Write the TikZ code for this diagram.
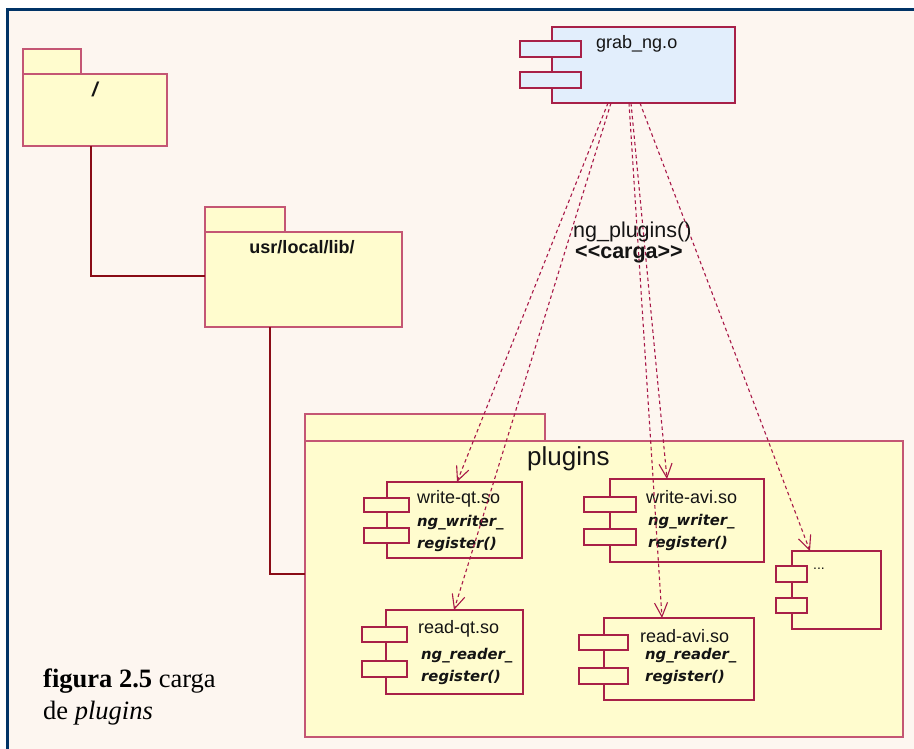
\documentclass[tikz,border=0pt]{standalone}
\usepackage{fontspec}
\setmainfont{Liberation Serif}
\setsansfont{Liberation Sans}
\newfontfamily\opfont{DejaVu Sans}
\usetikzlibrary{arrows.meta}

\definecolor{bgcol}{RGB}{253,246,240}
\definecolor{framecol}{RGB}{0,51,102}
\definecolor{pkgfill}{RGB}{255,252,206}
\definecolor{pkgline}{RGB}{196,86,116}
\definecolor{compline}{RGB}{168,32,72}
\definecolor{compblue}{RGB}{226,238,252}
\definecolor{linkcol}{RGB}{138,12,22}
\definecolor{depcol}{RGB}{168,24,72}
\definecolor{txtcol}{RGB}{20,20,20}

\begin{document}
\begin{tikzpicture}[x=1pt,y=-1pt,
  pkgbox/.style={draw=pkgline, fill=pkgfill, line width=1.3pt, inner sep=0pt, outer sep=0pt, anchor=north west},
  compbox/.style={draw=compline, fill=pkgfill, line width=1.3pt, inner sep=0pt, outer sep=0pt, anchor=north west},
  port/.style={draw=compline, fill=pkgfill, line width=1.3pt},
  link/.style={draw=linkcol, line width=2.6pt},
  dep/.style={draw=depcol, line width=1.1pt, dash pattern=on 3.5pt off 3pt,
    -{Straight Barb[length=14pt,width=13pt,line width=1.1pt]}},
  lbl/.style={inner sep=0pt, anchor=west, text=txtcol, font=\sffamily\fontsize{18}{21}\selectfont},
  oplbl/.style={inner sep=0pt, anchor=west, text=txtcol, font=\opfont\bfseries\itshape\fontsize{14.8}{17}\selectfont},
  caption/.style={inner sep=0pt, anchor=base west, text=black, font=\rmfamily\fontsize{26.5}{31}\selectfont}
]
% page and frame
\useasboundingbox (0,0) rectangle (914,749);
\fill[white] (0,0) rectangle (914,749);
\fill[bgcol] (7,10) rectangle (914,749);
\draw[framecol, line width=3pt] (7,749) -- (7,10) -- (914,10);

% package "/"
\node[pkgbox, minimum width=58pt, minimum height=25pt] (roottab) at (23,49) {};
\node[pkgbox, minimum width=144pt, minimum height=72pt] (root) at (23,74) {};
\node[lbl, anchor=center, font=\sffamily\bfseries\itshape\fontsize{20}{23}\selectfont] (rootname) at (95,89) {/};

% package usr/local/lib/
\node[pkgbox, minimum width=80pt, minimum height=25pt] (usrtab) at (205,207) {};
\node[pkgbox, minimum width=197pt, minimum height=95pt] (usr) at (205,232) {};
\node[lbl, anchor=center, font=\sffamily\bfseries\fontsize{18}{21}\selectfont] (usrname) at (302,247) {usr/local/lib/};

% package plugins
\node[pkgbox, minimum width=240pt, minimum height=27pt] (plugtab) at (305,414) {};
\node[pkgbox, minimum width=598pt, minimum height=296pt] (plugins) at (305,441) {};
\node[lbl, font=\sffamily\fontsize{26}{29}\selectfont] (plugname) at (527,459) {plugins};

% containment links
\draw[link] ([xshift=68pt]root.south west) |- ([yshift=3.5pt]usr.west);
\draw[link] ([xshift=65pt]usr.south west) |- ([yshift=15pt]plugins.west);

% component grab_ng.o
\node[compbox, fill=compblue, minimum width=183pt, minimum height=76pt] (grab) at (552,27) {};
\draw[port, fill=compblue] (520,41) rectangle (581,57);
\draw[port, fill=compblue] (520,72) rectangle (581,88);
\node[lbl] (grabname) at (596,44) {grab\_ng.o};

% component write-qt.so
\node[compbox, minimum width=135pt, minimum height=76pt] (wqt) at (387,482) {};
\draw[port] (364,498) rectangle (409,512);
\draw[port] (364,528) rectangle (409,543);
\node[lbl] (wqtname) at (417,499) {write-qt.so};
\node[oplbl] (wqtop1) at (417,523) {ng\_writer\_};
\node[oplbl] (wqtop2) at (417,544) {register()};

% component read-qt.so
\node[compbox, minimum width=137pt, minimum height=84pt] (rqt) at (386,610) {};
\draw[port] (362,627) rectangle (407,642);
\draw[port] (362,661) rectangle (407,677);
\node[lbl] (rqtname) at (418,629) {read-qt.so};
\node[oplbl] (rqtop1) at (421,656) {ng\_reader\_};
\node[oplbl] (rqtop2) at (421,677) {register()};

% component write-avi.so
\node[compbox, minimum width=154pt, minimum height=83pt] (wavi) at (610,479) {};
\draw[port] (584,497) rectangle (636,512);
\draw[port] (584,529) rectangle (636,545);
\node[lbl] (waviname) at (646,497) {write-avi.so};
\node[oplbl] (waviop1) at (648,522) {ng\_writer\_};
\node[oplbl] (waviop2) at (648,543) {register()};

% component read-avi.so
\node[compbox, minimum width=150pt, minimum height=82pt] (ravi) at (604,618) {};
\draw[port] (579,635) rectangle (628,650);
\draw[port] (579,668) rectangle (628,684);
\node[lbl] (raviname) at (640,636) {read-avi.so};
\node[oplbl] (raviop1) at (645,656) {ng\_reader\_};
\node[oplbl] (raviop2) at (645,677) {register()};

% further plugins
\node[compbox, minimum width=89pt, minimum height=78pt] (more) at (792,551) {};
\draw[port] (776,566) rectangle (807,582);
\draw[port] (776,598) rectangle (807,613);
\node[lbl, font=\sffamily\fontsize{14}{16}\selectfont] (morename) at (813,569) {...};

% loading dependencies
\draw[dep] ([xshift=56pt]grab.south west) -- ([xshift=70pt]wqt.north west);
\draw[dep] ([xshift=59pt]grab.south west) -- ([xshift=68pt]rqt.north west);
\draw[dep] ([xshift=79pt]grab.south west) -- ([xshift=57pt]wavi.north west);
\draw[dep] ([xshift=77pt]grab.south west) -- ([xshift=58pt]ravi.north west);
\draw[dep] ([xshift=88pt]grab.south west) -- ([xshift=18pt]more.north west);

\node[lbl, font=\sffamily\fontsize{21.5}{24}\selectfont] (depname) at (573,232) {ng\_plugins()};
\node[lbl, font=\sffamily\bfseries\fontsize{21.5}{24}\selectfont] (depkind) at (575,254) {<{}<carga>{}>};

% caption
\node[caption] (cap1) at (43,687) {\textbf{figura 2.5} carga};
\node[caption] (cap2) at (43,719) {de \textit{plugins}};
\end{tikzpicture}
\end{document}
